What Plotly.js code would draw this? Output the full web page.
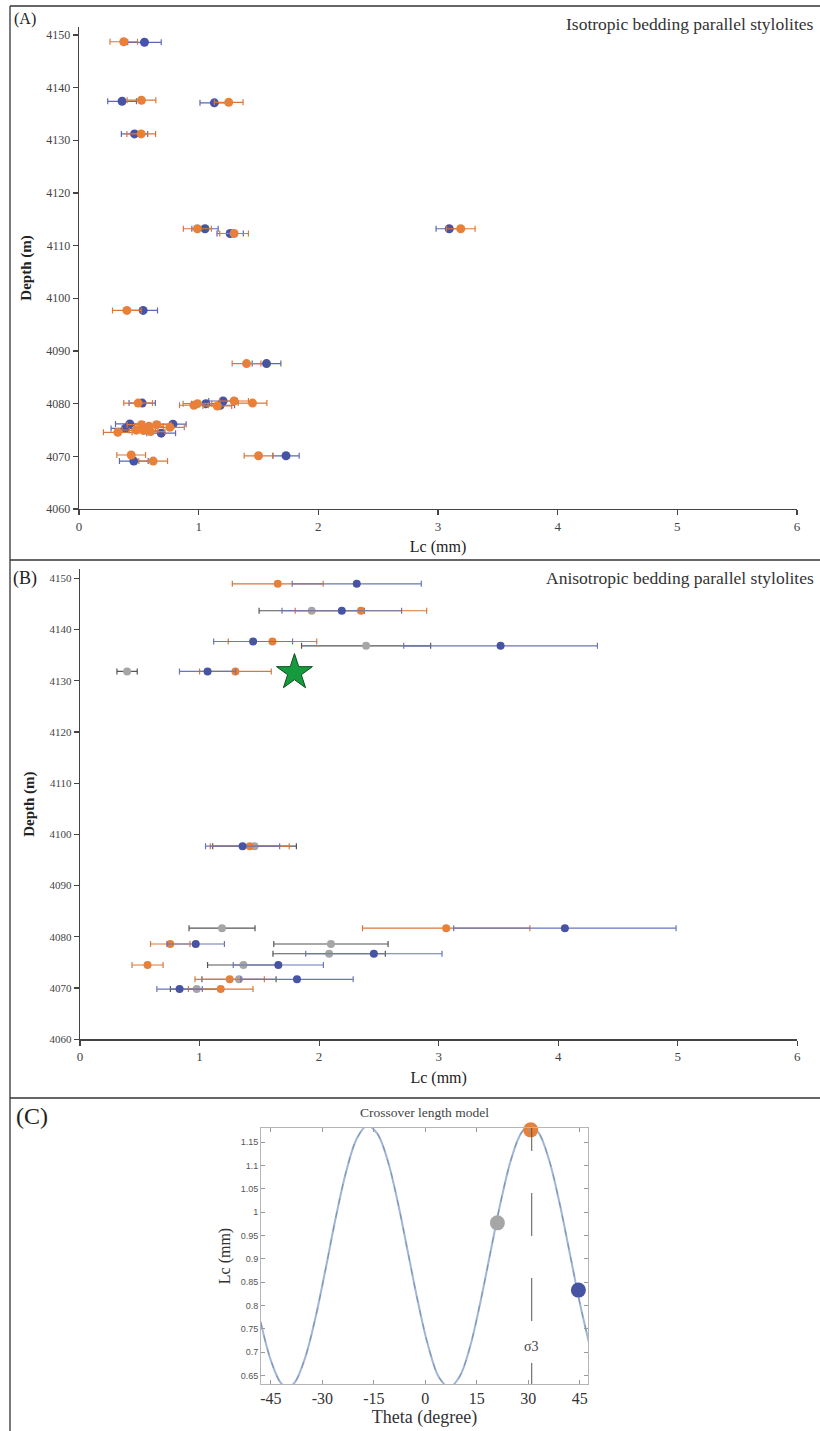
<!DOCTYPE html>
<html>
<head>
<meta charset="utf-8">
<script src="https://cdn.plot.ly/plotly-3.0.1.min.js"></script>
<style>html,body{margin:0;padding:0;background:#fff;}#chart{width:820px;height:1431px;}</style>
</head>
<body>
<div id="chart"></div>
<script>
// ---------- Panel A: isotropic bedding parallel stylolites ----------
const isoOrangeLc  = [0.374, 0.522, 1.251, 0.52, 0.989, 1.296, 3.19, 0.40, 1.40, 0.494, 0.96, 0.99, 1.296, 1.45, 1.156, 0.522, 0.584, 0.648, 0.76, 0.324, 0.48, 0.54, 0.598, 0.436, 0.62, 1.50];
const isoOrangeDep = [4148.7, 4137.6, 4137.2, 4131.2, 4113.2, 4112.3, 4113.2, 4097.7, 4087.6, 4080.1, 4079.7, 4080.0, 4080.5, 4080.1, 4079.55, 4076.0, 4075.7, 4076.0, 4075.5, 4074.55, 4075.0, 4074.9, 4074.7, 4070.25, 4069.1, 4070.1];
const isoOrangeErr = [0.115, 0.12, 0.12, 0.12, 0.117, 0.12, 0.12, 0.12, 0.12, 0.12, 0.12, 0.12, 0.12, 0.12, 0.12, 0.12, 0.12, 0.12, 0.12, 0.12, 0.12, 0.12, 0.12, 0.12, 0.12, 0.12];

const isoBlueLc  = [0.547, 0.36, 1.131, 0.464, 1.053, 1.263, 3.094, 0.536, 1.567, 0.528, 1.06, 1.204, 1.18, 0.425, 0.785, 0.388, 0.687, 0.458, 1.73];
const isoBlueDep = [4148.6, 4137.4, 4137.1, 4131.2, 4113.2, 4112.3, 4113.2, 4097.7, 4087.6, 4080.1, 4080.0, 4080.5, 4079.7, 4076.15, 4076.1, 4075.3, 4074.4, 4069.1, 4070.1];
const isoBlueErr = [0.14, 0.12, 0.12, 0.11, 0.11, 0.11, 0.11, 0.12, 0.12, 0.11, 0.12, 0.12, 0.12, 0.12, 0.11, 0.12, 0.12, 0.12, 0.11];

// ---------- Panel B: anisotropic bedding parallel stylolites ----------
const anisoOrangeLc  = [1.654, 2.35, 1.61, 1.30, 1.42, 3.063, 0.755, 0.565, 1.252, 1.177];
const anisoOrangeDep = [4148.9, 4143.65, 4137.65, 4131.8, 4097.7, 4081.7, 4078.6, 4074.5, 4071.7, 4069.8];
const anisoOrangeErr = [0.38, 0.55, 0.37, 0.30, 0.33, 0.70, 0.165, 0.13, 0.29, 0.27];

const anisoBlueLc  = [2.315, 2.19, 1.448, 3.518, 1.067, 1.36, 4.056, 0.968, 2.458, 1.659, 1.815, 0.833];
const anisoBlueDep = [4148.9, 4143.65, 4137.65, 4136.8, 4131.8, 4097.7, 4081.7, 4078.6, 4076.7, 4074.5, 4071.7, 4069.8];
const anisoBlueErr = [0.54, 0.50, 0.33, 0.81, 0.235, 0.31, 0.93, 0.24, 0.57, 0.377, 0.47, 0.19];

const anisoGrayLc  = [1.938, 2.393, 0.394, 1.46, 1.188, 2.099, 2.084, 1.367, 1.33, 0.976];
const anisoGrayDep = [4143.65, 4136.8, 4131.8, 4097.7, 4081.7, 4078.6, 4076.7, 4074.5, 4071.7, 4069.8];
const anisoGrayErr = [0.44, 0.54, 0.085, 0.35, 0.276, 0.478, 0.47, 0.30, 0.31, 0.22];

const starLc  = [1.794];
const starDep = [4131.6];

// ---------- Panel C: crossover length model ----------
const thetaModel = [-48, -45, -42, -40, -38, -35, -32, -29, -26, -23, -20, -17, -14, -11, -8, -5, -2, 1, 4, 7, 10, 13, 16, 19, 22, 25, 28, 30.5, 33, 36, 39, 42, 45, 48];
const lcModel    = [0.765, 0.682, 0.633, 0.625, 0.636, 0.689, 0.775, 0.881, 0.992, 1.089, 1.157, 1.185, 1.168, 1.111, 1.020, 0.911, 0.802, 0.709, 0.646, 0.625, 0.648, 0.711, 0.806, 0.915, 1.023, 1.113, 1.170, 1.185, 1.170, 1.113, 1.023, 0.915, 0.806, 0.711];
const thetaPoints = [30.7, 21.0, 44.6];
const lcPoints    = [1.176, 0.977, 0.833];
const pointColors = ['#E8803A', '#A6A6A6', '#4753A3'];
const sigma3Theta = 31.0;

const depthTicks = [4060, 4070, 4080, 4090, 4100, 4110, 4120, 4130, 4140, 4150];
const lcTicks = [0, 1, 2, 3, 4, 5, 6];
const thetaTicks = [-45, -30, -15, 0, 15, 30, 45];
const thetaTickText = ['-45', '-30', '-15', '0', '15', '30', '45'];
const lcModelTicks = [0.65, 0.7, 0.75, 0.8, 0.85, 0.9, 0.95, 1, 1.05, 1.1, 1.15];
const lcModelTickText = ['0.65', '0.7', '0.75', '0.8', '0.85', '0.9', '0.95', '1', '1.05', '1.1', '1.15'];

// ---------- styling ----------
const ORANGE = '#E8803A', BLUE = '#4753A3', GRAY = '#A6A6A6';
const SERIF = 'Liberation Serif, Times New Roman, serif';
const W = 820, H = 1431;
const px = v => v / W;
const py = v => 1 - v / H;

function errTrace(x, y, err, color, barColor, xa, ya, size) {
  return {
    type: 'scatter', mode: 'markers', x: x, y: y, xaxis: xa, yaxis: ya,
    marker: {color: color, size: size, line: {width: 0}},
    error_x: {type: 'data', array: err, visible: true, color: barColor, thickness: 1.2, width: 3},
    showlegend: false, hoverinfo: 'x+y'
  };
}

const traces = [
  errTrace(isoBlueLc, isoBlueDep, isoBlueErr, BLUE, '#5d69b0', 'x', 'y', 9),
  errTrace(isoOrangeLc, isoOrangeDep, isoOrangeErr, ORANGE, '#d9783a', 'x', 'y', 9),
  errTrace(anisoGrayLc, anisoGrayDep, anisoGrayErr, GRAY, '#555555', 'x2', 'y2', 8),
  errTrace(anisoOrangeLc, anisoOrangeDep, anisoOrangeErr, ORANGE, '#d9783a', 'x2', 'y2', 8),
  errTrace(anisoBlueLc, anisoBlueDep, anisoBlueErr, BLUE, '#6a76b8', 'x2', 'y2', 8),
  {type: 'scatter', mode: 'markers', x: starLc, y: starDep, xaxis: 'x2', yaxis: 'y2',
   marker: {symbol: 'star', size: 27, color: '#169a3e', line: {color: '#0c4f1e', width: 1}},
   showlegend: false},
  {type: 'scatter', mode: 'lines', x: thetaModel, y: lcModel, xaxis: 'x3', yaxis: 'y3',
   line: {shape: 'spline', smoothing: 1.0, color: '#9fb6d6', width: 2}, showlegend: false, hoverinfo: 'skip'},
  {type: 'scatter', mode: 'lines', x: thetaModel, y: lcModel, xaxis: 'x3', yaxis: 'y3',
   line: {shape: 'spline', smoothing: 1.0, color: '#6f7f95', width: 0.7, dash: '6px,8px'}, showlegend: false, hoverinfo: 'skip'},
  {type: 'scatter', mode: 'markers', x: thetaPoints, y: lcPoints, xaxis: 'x3', yaxis: 'y3',
   marker: {color: pointColors, size: 15}, cliponaxis: false, showlegend: false}
];

const depthAxis = (domain, range, fontSize) => ({
  domain: domain, range: range, tickvals: depthTicks, ticks: 'outside', ticklen: 5, tickwidth: 1.2,
  tickcolor: '#444', showline: true, linecolor: '#444', linewidth: 1.3, showgrid: false, zeroline: false,
  tickfont: {family: SERIF, size: fontSize, color: '#444'},
  title: {text: '<b>Depth (m)</b>', font: {family: SERIF, size: 15, color: '#222'}, standoff: 11}
});
const lcAxis = (domain, anchor) => ({
  domain: domain, range: [0, 6], tickvals: lcTicks, ticks: 'outside', ticklen: 5, tickwidth: 1.2,
  tickcolor: '#444', showline: true, linecolor: '#444', linewidth: 1.3, showgrid: false, zeroline: false,
  anchor: anchor,
  tickfont: {family: SERIF, size: 13, color: '#444'},
  title: {text: 'Lc (mm)', font: {family: SERIF, size: 16, color: '#222'}, standoff: 8}
});

const lineShape = (x0, y0, x1, y1) => ({type: 'line', xref: 'paper', yref: 'paper', x0: x0, y0: y0, x1: x1, y1: y1,
  line: {color: '#333', width: 1.3}});

const layout = {
  width: W, height: H, margin: {l: 0, r: 0, t: 0, b: 0},
  paper_bgcolor: '#ffffff', plot_bgcolor: '#ffffff', showlegend: false,
  font: {family: SERIF, color: '#333'},
  xaxis: lcAxis([px(79), px(797)], 'y'),
  yaxis: Object.assign(depthAxis([py(509), py(27)], [4060, 4151.5], 12), {anchor: 'x'}),
  xaxis2: lcAxis([px(80), px(797.3)], 'y2'),
  yaxis2: Object.assign(depthAxis([py(1039.3), py(569)], [4060, 4151.8], 11), {anchor: 'x2'}),
  xaxis3: {
    domain: [px(261), px(588)], range: [-47.9, 47.4], anchor: 'y3',
    tickvals: thetaTicks, ticktext: thetaTickText, ticks: 'inside', ticklen: 4, tickcolor: '#999',
    showline: true, mirror: 'ticks', linecolor: '#b5b5b5', linewidth: 1, showgrid: false, zeroline: false,
    tickfont: {family: SERIF, size: 16, color: '#333'},
    title: {text: 'Theta (degree)', font: {family: SERIF, size: 18, color: '#333'}, standoff: 4}
  },
  yaxis3: {
    domain: [py(1384), py(1128)], range: [0.632, 1.18], anchor: 'x3',
    tickvals: lcModelTicks, ticktext: lcModelTickText, ticks: 'inside', ticklen: 4, tickcolor: '#999',
    showline: true, mirror: 'ticks', linecolor: '#b5b5b5', linewidth: 1, showgrid: false, zeroline: false,
    tickfont: {family: 'Liberation Sans, Arial, sans-serif', size: 9, color: '#555'},
    title: {text: 'Lc (mm)', font: {family: SERIF, size: 16, color: '#333'}, standoff: 6}
  },
  shapes: [
    lineShape(px(10), py(6), 1, py(6)),
    lineShape(px(10), py(6), px(10), 0),
    lineShape(px(10), py(560), 1, py(560)),
    lineShape(px(10), py(1098), 1, py(1098)),
    {type: 'line', xref: 'x3', yref: 'y3', x0: sigma3Theta, x1: sigma3Theta, y0: 0.585, y1: 1.20,
     line: {color: '#555', width: 1, dash: '43px,42px'}, layer: 'above'}
  ],
  annotations: [
    {xref: 'paper', yref: 'paper', x: px(12), y: py(8), xanchor: 'left', yanchor: 'top', showarrow: false,
     text: '(A)', font: {family: SERIF, size: 16, color: '#222'}},
    {xref: 'paper', yref: 'paper', x: px(816), y: py(24), xanchor: 'right', yanchor: 'middle', showarrow: false,
     text: 'Isotropic bedding parallel stylolites', font: {family: SERIF, size: 17.5, color: '#333'}},
    {xref: 'paper', yref: 'paper', x: px(11), y: py(578), xanchor: 'left', yanchor: 'middle', showarrow: false,
     text: '(B)', font: {family: SERIF, size: 18, color: '#222'}},
    {xref: 'paper', yref: 'paper', x: px(816), y: py(578), xanchor: 'right', yanchor: 'middle', showarrow: false,
     text: 'Anisotropic bedding parallel stylolites', font: {family: SERIF, size: 17.5, color: '#333'}},
    {xref: 'paper', yref: 'paper', x: px(14), y: py(1116), xanchor: 'left', yanchor: 'middle', showarrow: false,
     text: '(C)', font: {family: SERIF, size: 24, color: '#222'}},
    {xref: 'paper', yref: 'paper', x: px(424), y: py(1112), xanchor: 'center', yanchor: 'middle', showarrow: false,
     text: 'Crossover length model', font: {family: SERIF, size: 13.5, color: '#444'}},
    {xref: 'x3', yref: 'y3', x: sigma3Theta, y: 0.712, xanchor: 'center', yanchor: 'middle', showarrow: false,
     text: 'σ3', font: {family: SERIF, size: 14, color: '#444'}}
  ]
};

Plotly.newPlot('chart', traces, layout, {displayModeBar: false, staticPlot: true});
</script>
</body>
</html>
